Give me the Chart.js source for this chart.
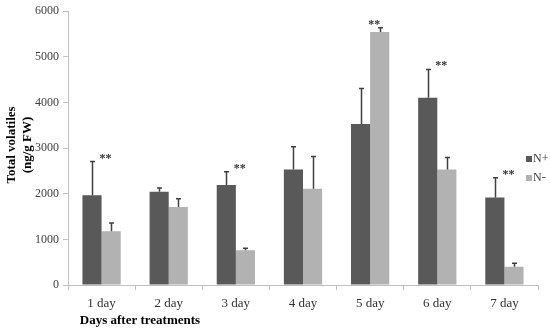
<!DOCTYPE html>
<html lang="en">
<head>
  <meta charset="UTF-8" />
  <title>Total volatiles after treatments</title>
  <script src="https://cdn.jsdelivr.net/npm/chart.js"></script>
  <style>
    html, body {
      margin: 0;
      padding: 0;
      background: #ffffff;
    }
    .chart-container {
      width: 550px;
      height: 331px;
    }
  </style>
</head>
<body>

  <div class="chart-container">
    <canvas id="volChart"></canvas>
  </div>

  <script>
    // Data
    const days = ['1 day', '2 day', '3 day', '4 day', '5 day', '6 day', '7 day'];
    const nPlus = [1965, 2045, 2190, 2530, 3530, 4105, 1915];
    const nMinus = [1180, 1710, 760, 2110, 5545, 2530, 400];
    const nPlusErr = [740, 80, 290, 500, 775, 620, 435];
    const nMinusErr = [180, 180, 45, 705, 90, 265, 75];
    const marks = ['**', '', '**', '', '**', '**', '**'];
    const yTicks = [0, 1000, 2000, 3000, 4000, 5000, 6000];

    const serif = '"Liberation Serif", "Times New Roman", serif';
    const darkBar = '#595959';
    const lightBar = '#b2b2b2';

    // error bars (upward only), asterisks, axis titles and legend
    const extras = {
      id: 'extras',
      afterDatasetsDraw(chart) {
        const c = chart.ctx;
        const y = chart.scales.y;
        const errs = [nPlusErr, nMinusErr];
        const vals = [nPlus, nMinus];
        c.save();
        c.strokeStyle = '#404040';
        c.lineWidth = 1.5;
        for (let d = 0; d < 2; d++) {
          const meta = chart.getDatasetMeta(d);
          meta.data.forEach((bar, i) => {
            const x = Math.round(bar.x) + 0.5;
            const top = y.getPixelForValue(vals[d][i] + errs[d][i]);
            c.beginPath();
            c.moveTo(x, bar.y);
            c.lineTo(x, top);
            c.moveTo(x - 2.5, top);
            c.lineTo(x + 2.5, top);
            c.stroke();
          });
        }

        // significance marks
        c.fillStyle = '#333';
        c.font = 'bold 12px ' + serif;
        c.textAlign = 'center';
        c.textBaseline = 'middle';
        const xs = chart.scales.x;
        marks.forEach((m, i) => {
          if (!m) return;
          const hi = Math.max(nPlus[i] + nPlusErr[i], nMinus[i] + nMinusErr[i]);
          c.fillText(m, xs.getPixelForValue(i) + 4, y.getPixelForValue(hi) - 3);
        });

        // y title
        c.fillStyle = '#000';
        c.font = 'bold 13px ' + serif;
        c.save();
        c.translate(12, 145);
        c.rotate(-Math.PI / 2);
        c.fillText('Total volatiles', 0, 0);
        c.fillText('(ng/g FW)', 0, 16);
        c.restore();

        // x title
        c.fillText('Days after treatments', 140, 321);

        // legend
        c.font = '12px ' + serif;
        c.textAlign = 'left';
        const items = [['N+', darkBar, 159], ['N-', lightBar, 178]];
        items.forEach(([label, col, ly]) => {
          c.fillStyle = col;
          c.fillRect(526, ly - 3, 6, 6);
          c.fillStyle = '#404040';
          c.fillText(label, 533, ly);
        });
        c.restore();
      }
    };

    const ctx = document.getElementById('volChart').getContext('2d');
    new Chart(ctx, {
      type: 'bar',
      data: {
        labels: days,
        datasets: [
          { label: 'N+', data: nPlus, backgroundColor: darkBar, borderWidth: 0 },
          { label: 'N-', data: nMinus, backgroundColor: lightBar, borderWidth: 0 }
        ]
      },
      options: {
        responsive: true,
        maintainAspectRatio: false,
        animation: false,
        layout: { padding: { top: 4, right: 12, left: 0, bottom: 0 } },
        plugins: {
          legend: { display: false },
          tooltip: { enabled: false }
        },
        datasets: {
          bar: { categoryPercentage: 0.57, barPercentage: 1.0 }
        },
        scales: {
          x: {
            grid: {
              offset: true,
              drawOnChartArea: false,
              drawTicks: true,
              tickLength: 5,
              color: '#bfbfbf'
            },
            border: { color: '#bfbfbf' },
            ticks: {
              color: '#333',
              font: { family: serif, size: 13 },
              padding: 6,
              maxRotation: 0
            },
            afterFit(scale) { scale.height = 46; }
          },
          y: {
            min: 0,
            max: 6000,
            afterBuildTicks(scale) {
              scale.ticks = yTicks.map(v => ({ value: v }));
            },
            grid: {
              drawOnChartArea: false,
              drawTicks: true,
              tickLength: 5,
              color: '#bfbfbf'
            },
            border: { color: '#bfbfbf' },
            ticks: {
              color: '#404040',
              font: { family: serif, size: 12 },
              padding: 4,
              callback: v => String(v)
            },
            afterFit(scale) { scale.width = 68; }
          }
        }
      },
      plugins: [extras]
    });
  </script>

</body>
</html>
